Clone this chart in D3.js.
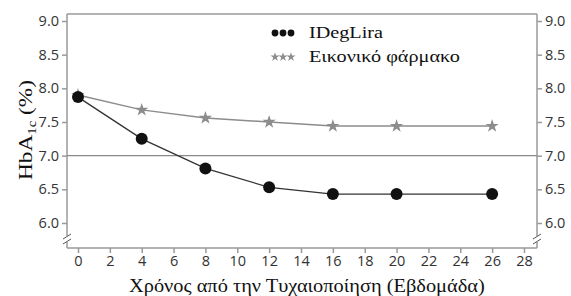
<!DOCTYPE html>
<html><head><meta charset="utf-8">
<script src="https://cdn.jsdelivr.net/npm/d3@7"></script>
<style>body{margin:0;background:#fff}svg{display:block}</style>
</head><body>
<svg id="c" width="571" height="296"></svg>
<script>
const weeks = [0, 4, 8, 12, 16, 20, 26];
const ideglira = [7.87, 7.25, 6.81, 6.53, 6.43, 6.43, 6.43];
const placebo = [7.90, 7.68, 7.56, 7.50, 7.44, 7.44, 7.44];
const seriesNames = ["IDegLira", "Εικονικό φάρμακο"];
const xTicks = [0,2,4,6,8,10,12,14,16,18,20,22,24,26,28];
const yTicks = [6.0, 6.5, 7.0, 7.5, 8.0, 8.5, 9.0];
const refValue = 7.0;
const xTitle = "Χρόνος από την Τυχαιοποίηση (Εβδομάδα)";

const svg = d3.select("#c");
const L = 67, R = 537, T = 14, B = 248;
const x = d3.scaleLinear().domain([0, 28]).range([78, 524]);
const y = d3.scaleLinear().domain([6, 9]).range([223, 21]);
const axisCol = "#9a9a9a";
const tickFont = "'Open Sans', sans-serif";
const serif = "'Liberation Serif', serif";

// stretch text horizontally (along its direction) to a target length
function fit(textSel, target, tx, ty, rot) {
  const w = textSel.node().getComputedTextLength();
  const s = target / w;
  textSel.attr("x", 0).attr("y", 0)
    .attr("transform", `translate(${tx},${ty})${rot ? ` rotate(${rot})` : ""} scale(${s},1)`);
}

// frame: top
svg.append("line").attr("x1", L).attr("x2", R).attr("y1", T).attr("y2", T).attr("stroke", axisCol).attr("stroke-width", 1.5);
// bottom axis
const xa = svg.append("g").attr("transform", `translate(0,${B})`)
  .call(d3.axisBottom(x).tickValues(xTicks).tickSize(5).tickPadding(3).tickFormat(d3.format("d")));
xa.select(".domain").attr("d", `M${L},0H${R}`).attr("stroke", axisCol).attr("stroke-width", 1.5);
xa.selectAll(".tick line").attr("stroke", axisCol).attr("stroke-width", 1.5);
xa.selectAll("text").attr("font-family", tickFont).attr("font-size", 14.5).attr("fill", "#333");

function yAxis(axisFn, xpos) {
  const g = svg.append("g").attr("transform", `translate(${xpos},0)`)
    .call(axisFn(y).tickValues(yTicks).tickSize(5).tickPadding(3).tickFormat(d3.format(".1f")));
  g.select(".domain").remove();
  g.selectAll(".tick line").attr("stroke", axisCol).attr("stroke-width", 1.5);
  g.selectAll("text").attr("font-family", tickFont).attr("font-size", 14.5).attr("fill", "#333");
  g.append("line").attr("x1", 0).attr("x2", 0).attr("y1", T).attr("y2", 236).attr("stroke", axisCol).attr("stroke-width", 1.5);
  g.append("line").attr("x1", 0).attr("x2", 0).attr("y1", 242).attr("y2", B).attr("stroke", axisCol).attr("stroke-width", 1.5);
  g.append("line").attr("x1", -4).attr("x2", 4).attr("y1", 239).attr("y2", 234).attr("stroke", "#555").attr("stroke-width", 1);
  g.append("line").attr("x1", -4).attr("x2", 4).attr("y1", 244).attr("y2", 239).attr("stroke", "#555").attr("stroke-width", 1);
}
yAxis(d3.axisLeft, L);
yAxis(d3.axisRight, R);

// reference line
svg.append("line").attr("x1", L).attr("x2", R).attr("y1", y(refValue)).attr("y2", y(refValue))
  .attr("stroke", "#8a8a8a").attr("stroke-width", 1.2);

const line = d3.line().x(d => x(d[0])).y(d => y(d[1]));
const pData = weeks.map((w, i) => [w, placebo[i]]);
const iData = weeks.map((w, i) => [w, ideglira[i]]);
const grayC = "#8c8c8c", blackC = "#111";
svg.append("path").datum(pData).attr("d", line).attr("fill", "none").attr("stroke", grayC).attr("stroke-width", 1.5);
svg.append("path").datum(iData).attr("d", line).attr("fill", "none").attr("stroke", "#333").attr("stroke-width", 1.3);

const star = d3.symbol().type(d3.symbolStar);
svg.selectAll(".ps").data(pData).join("path").attr("class", "ps")
  .attr("transform", d => `translate(${x(d[0])},${y(d[1])})`).attr("d", star.size(55)()).attr("fill", grayC);
svg.selectAll(".ic").data(iData).join("circle").attr("class", "ic")
  .attr("cx", d => x(d[0])).attr("cy", d => y(d[1])).attr("r", 6).attr("fill", blackC);

// legend
const lg = svg.append("g");
[0, 1, 2].forEach(k => {
  lg.append("circle").attr("cx", 275 + k * 8).attr("cy", 33).attr("r", 3.4).attr("fill", blackC);
  lg.append("path").attr("transform", `translate(${275 + k * 8},57)`).attr("d", d3.symbol().type(d3.symbolStar).size(26)()).attr("fill", grayC);
});
const lt1 = lg.append("text").text(seriesNames[0]).attr("font-family", serif).attr("font-size", 16.5).attr("fill", "#111");
fit(lt1, 74, 309, 38);
const lt2 = lg.append("text").text(seriesNames[1]).attr("font-family", serif).attr("font-size", 16.5).attr("fill", "#111");
fit(lt2, 151, 309, 62);

// titles
const xt = svg.append("text").attr("font-family", serif).attr("font-size", 19).attr("fill", "#111").text(xTitle);
fit(xt, 356, 129, 292);
const yt = svg.append("text").attr("font-family", serif).attr("font-size", 19).attr("fill", "#111");
yt.append("tspan").text("HbA");
yt.append("tspan").text("1c").attr("font-size", 12).attr("dy", 4);
yt.append("tspan").text(" (%)").attr("dy", -4);
fit(yt, 100, 32, 180, -90);
</script>
</body></html>
